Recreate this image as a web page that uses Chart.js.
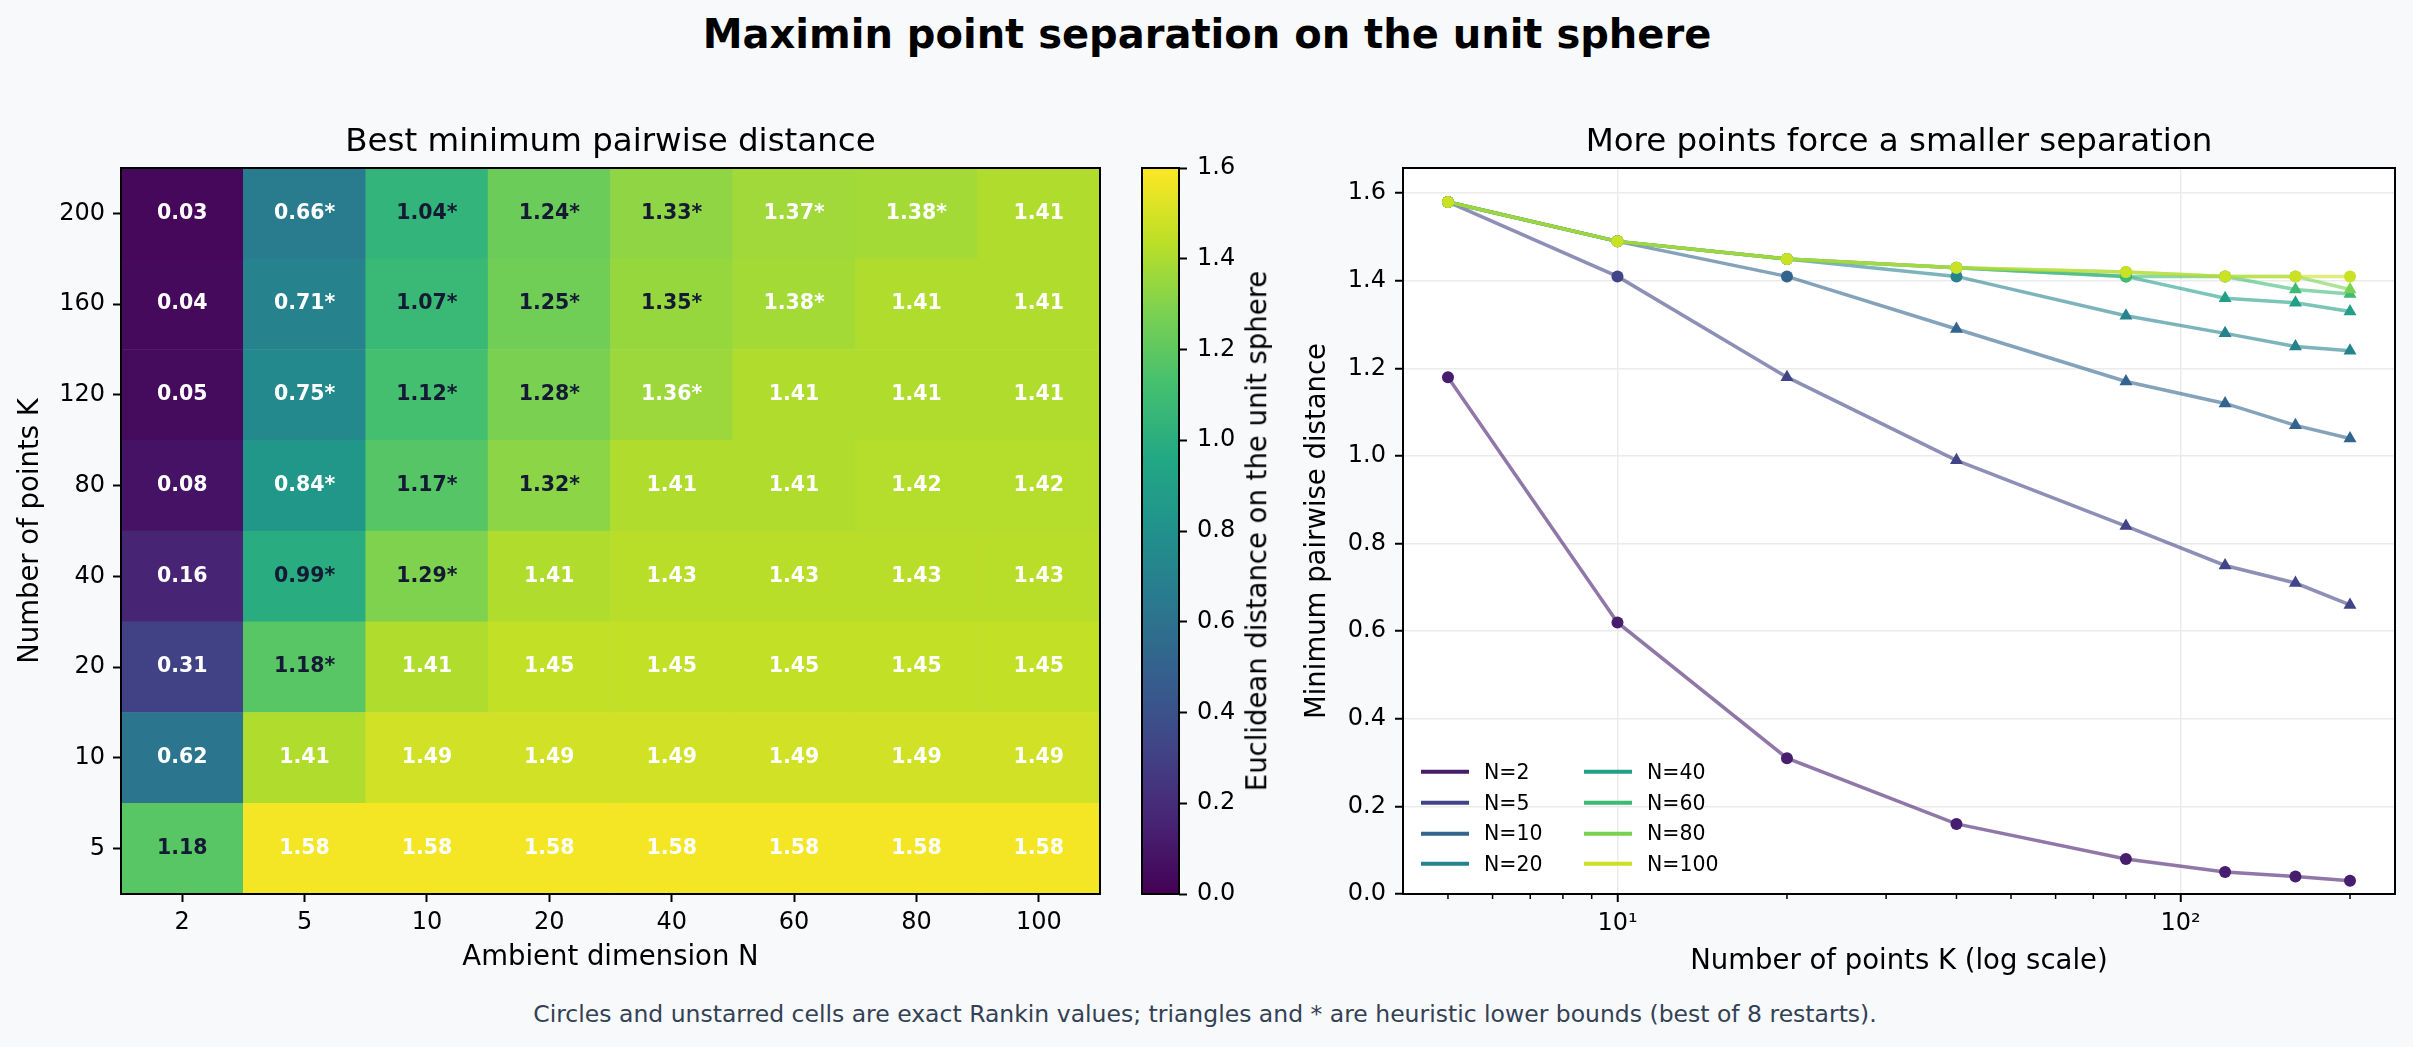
<!DOCTYPE html>
<html lang="en">
<head>
<meta charset="UTF-8">
<title>Maximin point separation on the unit sphere</title>
<script src="https://cdn.jsdelivr.net/npm/chart.js"></script>
<style>
  body { margin: 0; width: 2413px; height: 1047px; background: #f8f9fb; position: relative; overflow: hidden;
         font-family: "DejaVu Sans", sans-serif; color: #000; }
  canvas { position: absolute; }
  .txt { position: absolute; line-height: 1; white-space: nowrap; transform: translate(-50%, -50%); }
  #title { left: 1207px; top: 34px; font-size: 40px; font-weight: bold; }
  #note { left: 1205px; top: 1015px; font-size: 23.5px; color: #334155; }
  #cblabel { left: 1257px; top: 531px; font-size: 27.5px; transform: translate(-50%, -50%) rotate(-90deg); }
  .leg { position: absolute; display: flex; align-items: center; transform: translateY(-50%); font-size: 20.5px; line-height: 1; }
  .leg .sw { display: inline-block; width: 48px; height: 4px; margin-right: 15px; }
</style>
</head>
<body>
  <div id="title" class="txt">Maximin point separation on the unit sphere</div>
  <canvas id="heat" width="1112" height="900" style="left:0; top:100px;"></canvas>
  <canvas id="cbar" width="200" height="900" style="left:1100px; top:100px;"></canvas>
  <div id="cblabel" class="txt">Euclidean distance on the unit sphere</div>
  <canvas id="line" width="1123" height="900" style="left:1290px; top:100px;"></canvas>
  <div id="legend"></div>
  <div id="note" class="txt">Circles and unstarred cells are exact Rankin values; triangles and * are heuristic lower bounds (best of 8 restarts).</div>

<script>
// number of points K (rows of the heatmap, x of the line chart)
const kPoints = [5, 10, 20, 40, 80, 120, 160, 200];
// ambient dimension N (columns of the heatmap, one line each)
const nDims = [2, 5, 10, 20, 40, 60, 80, 100];

// best minimum pairwise distance per N, indexed like kPoints
const distN2   = [1.18, 0.62, 0.31, 0.16, 0.08, 0.05, 0.04, 0.03];
const distN5   = [1.58, 1.41, 1.18, 0.99, 0.84, 0.75, 0.71, 0.66];
const distN10  = [1.58, 1.49, 1.41, 1.29, 1.17, 1.12, 1.07, 1.04];
const distN20  = [1.58, 1.49, 1.45, 1.41, 1.32, 1.28, 1.25, 1.24];
const distN40  = [1.58, 1.49, 1.45, 1.43, 1.41, 1.36, 1.35, 1.33];
const distN60  = [1.58, 1.49, 1.45, 1.43, 1.41, 1.41, 1.38, 1.37];
const distN80  = [1.58, 1.49, 1.45, 1.43, 1.42, 1.41, 1.41, 1.38];
const distN100 = [1.58, 1.49, 1.45, 1.43, 1.42, 1.41, 1.41, 1.41];

// 1 = heuristic lower bound (triangle / *), 0 = exact Rankin value
const heurN2   = [0, 0, 0, 0, 0, 0, 0, 0];
const heurN5   = [0, 0, 1, 1, 1, 1, 1, 1];
const heurN10  = [0, 0, 0, 1, 1, 1, 1, 1];
const heurN20  = [0, 0, 0, 0, 1, 1, 1, 1];
const heurN40  = [0, 0, 0, 0, 0, 1, 1, 1];
const heurN60  = [0, 0, 0, 0, 0, 0, 1, 1];
const heurN80  = [0, 0, 0, 0, 0, 0, 0, 1];
const heurN100 = [0, 0, 0, 0, 0, 0, 0, 0];

// tick labels
const kTickValues = [10, 100];
const kTickLabels = ['10\u00b9', '10\u00b2'];
const kMinorTicks = [5, 6, 7, 8, 9, 20, 30, 40, 50, 60, 70, 80, 90, 200];
const distTicks = [0, 0.2, 0.4, 0.6, 0.8, 1.0, 1.2, 1.4, 1.6];

const dist = [distN2, distN5, distN10, distN20, distN40, distN60, distN80, distN100];
const heur = [heurN2, heurN5, heurN10, heurN20, heurN40, heurN60, heurN80, heurN100];
const cMax = 1.6;

// viridis, 11 stops
const VIR = [[68,1,84],[72,36,117],[65,68,135],[53,95,141],[42,120,142],[33,145,140],
             [34,168,132],[68,191,112],[122,209,81],[189,223,38],[253,231,37]];
function viridisRGB(t) {
  t = Math.min(1, Math.max(0, t));
  const p = t * 10, i = Math.min(9, Math.floor(p)), f = p - i;
  return VIR[i].map((c, j) => Math.round(c + (VIR[i + 1][j] - c) * f));
}
function viridis(t, a) {
  const [r, g, b] = viridisRGB(t);
  return a == null ? `rgb(${r},${g},${b})` : `rgba(${r},${g},${b},${a})`;
}
const lineTone = [0.08, 0.2, 0.32, 0.44, 0.56, 0.68, 0.8, 0.92];

Chart.defaults.font.family = "'DejaVu Sans', sans-serif";
Chart.defaults.color = '#000';

const fixAxis = (w, h) => scale => {
  if (w != null) scale.width = w;
  if (h != null) scale.height = h;
  scale.paddingTop = scale.paddingBottom = scale.paddingLeft = scale.paddingRight = 0;
};

const frame = {
  id: 'frame',
  beforeDraw(chart, args, opts) {
    if (!opts.fill) return;
    const a = chart.chartArea, ctx = chart.ctx;
    ctx.save();
    ctx.fillStyle = opts.fill;
    ctx.fillRect(a.left, a.top, a.width, a.height);
    ctx.restore();
  },
  afterDraw(chart) {
    const a = chart.chartArea, ctx = chart.ctx;
    ctx.save();
    ctx.strokeStyle = '#000';
    ctx.lineWidth = 2;
    ctx.strokeRect(a.left, a.top, a.width, a.height);
    ctx.restore();
  }
};

const tickGrid = { drawOnChartArea: false, tickLength: 8, tickColor: '#000', tickWidth: 2 };
const subTitle = text => ({
  display: true, text, fullSize: false, color: '#000',
  font: { size: 32.5, weight: 'normal' }, padding: { top: 23.5, bottom: 5.5 }
});

// ---------- heatmap ----------
const cellText = {
  id: 'cellText',
  afterDatasetsDraw(chart) {
    const ctx = chart.ctx;
    ctx.save();
    ctx.font = "bold 20.5px 'DejaVu Sans', sans-serif";
    ctx.textAlign = 'center';
    ctx.textBaseline = 'middle';
    chart.data.datasets.forEach((ds, r) => {
      chart.getDatasetMeta(r).data.forEach((bar, c) => {
        const { x, y, base } = bar.getProps(['x', 'y', 'base'], true);
        const v = dist[c][r];
        const t = v / cMax;
        ctx.fillStyle = (t > 0.55 && t < 0.85) ? '#141a33' : '#ffffff';
        ctx.fillText(v.toFixed(2) + (heur[c][r] ? '*' : ''), x, (y + base) / 2);
      });
    });
    ctx.restore();
  }
};

new Chart(document.getElementById('heat'), {
  type: 'bar',
  data: {
    labels: nDims.map(String),
    datasets: kPoints.map((k, r) => ({
      label: 'K=' + k,
      data: nDims.map(() => [r, r + 1]),
      backgroundColor: nDims.map((n, c) => viridis(dist[c][r] / cMax)),
      borderWidth: 0,
      grouped: false,
      barPercentage: 1,
      categoryPercentage: 1
    }))
  },
  options: {
    responsive: false, animation: false, events: [],
    layout: { padding: { left: 0, right: 12, top: 0, bottom: 0 } },
    plugins: {
      legend: { display: false }, tooltip: { enabled: false },
      title: subTitle('Best minimum pairwise distance')
    },
    scales: {
      x: {
        grid: Object.assign({ offset: false }, tickGrid),
        border: { display: false },
        ticks: { font: { size: 24 }, padding: 6, maxRotation: 0, autoSkip: false },
        title: { display: true, text: 'Ambient dimension N', font: { size: 27.5 }, padding: { top: 0, bottom: 25.5 } },
        afterFit: fixAxis(null, 106)
      },
      y: {
        min: 0, max: kPoints.length,
        afterBuildTicks: s => { s.ticks = kPoints.map((k, i) => ({ value: i + 0.5 })); },
        ticks: { font: { size: 24 }, padding: 8, callback: (v, i) => String(kPoints[i]) },
        grid: tickGrid,
        border: { display: false },
        title: { display: true, text: 'Number of points K', font: { size: 27.5 }, padding: { top: 14, bottom: 0 } },
        afterFit: fixAxis(121, null)
      }
    }
  },
  plugins: [frame, cellText]
});

// ---------- colorbar ----------
new Chart(document.getElementById('cbar'), {
  type: 'bar',
  data: {
    labels: [''],
    datasets: [{
      data: [[0, cMax]],
      borderWidth: 0, barPercentage: 1, categoryPercentage: 1,
      backgroundColor: ctx => {
        const a = ctx.chart.chartArea;
        if (!a) return '#21918c';
        const g = ctx.chart.ctx.createLinearGradient(0, a.bottom, 0, a.top);
        VIR.forEach((c, i) => g.addColorStop(i / 10, `rgb(${c[0]},${c[1]},${c[2]})`));
        return g;
      }
    }]
  },
  options: {
    responsive: false, animation: false, events: [],
    layout: { padding: { left: 42, right: 61, top: 68, bottom: 106 } },
    plugins: { legend: { display: false }, tooltip: { enabled: false } },
    scales: {
      x: { display: false },
      y: {
        position: 'right', min: 0, max: cMax,
        afterBuildTicks: s => { s.ticks = distTicks.map(v => ({ value: v })); },
        ticks: { font: { size: 24 }, padding: 10, callback: v => v.toFixed(1) },
        grid: tickGrid,
        border: { display: false },
        afterFit: fixAxis(60, null)
      }
    }
  },
  plugins: [frame]
});

// ---------- line chart ----------
const minorTicks = {
  id: 'minorTicks',
  afterDraw(chart) {
    const s = chart.scales.x, ctx = chart.ctx, b = chart.chartArea.bottom;
    ctx.save();
    ctx.strokeStyle = '#000';
    ctx.lineWidth = 1.5;
    kMinorTicks.forEach(v => {
      const px = s.getPixelForValue(v);
      ctx.beginPath(); ctx.moveTo(px, b); ctx.lineTo(px, b + 5); ctx.stroke();
    });
    ctx.restore();
  }
};

const lineChart = new Chart(document.getElementById('line'), {
  type: 'line',
  data: {
    datasets: nDims.map((n, i) => ({
      label: 'N=' + n,
      data: kPoints.map((k, j) => ({ x: k, y: dist[i][j] })),
      borderColor: viridis(lineTone[i], 0.6),
      borderWidth: 3.5,
      pointStyle: heur[i].map(h => h ? 'triangle' : 'circle'),
      pointRadius: heur[i].map(h => h ? 7.5 : 6),
      pointBackgroundColor: viridis(lineTone[i]),
      pointBorderWidth: 0,
      tension: 0,
      fill: false,
      order: nDims.length - 1 - i
    }))
  },
  options: {
    responsive: false, animation: false, events: [],
    layout: { padding: { left: 0, right: 18, top: 0, bottom: 0 } },
    plugins: {
      legend: { display: false }, tooltip: { enabled: false },
      title: subTitle('More points force a smaller separation'),
      frame: { fill: '#ffffff' }
    },
    scales: {
      x: {
        type: 'logarithmic', min: 4.16, max: 240.4,
        afterBuildTicks: s => { s.ticks = kTickValues.map(v => ({ value: v, major: true })); },
        ticks: { font: { size: 24 }, padding: 7, maxRotation: 0, autoSkip: false, callback: (v, i) => kTickLabels[i] },
        grid: { color: '#ebebeb', lineWidth: 1.5, tickLength: 8, tickColor: '#000', tickWidth: 2 },
        border: { display: false },
        title: { display: true, text: 'Number of points K (log scale)', font: { size: 27.5 }, padding: { top: 0, bottom: 21.5 } },
        afterFit: fixAxis(null, 106)
      },
      y: {
        min: 0, max: 1.6575,
        afterBuildTicks: s => { s.ticks = distTicks.map(v => ({ value: v })); },
        ticks: { font: { size: 24 }, padding: 9, callback: v => v.toFixed(1) },
        grid: { color: '#ebebeb', lineWidth: 1.5, tickLength: 8, tickColor: '#000', tickWidth: 2 },
        border: { display: false },
        title: { display: true, text: 'Minimum pairwise distance', font: { size: 27.5 }, padding: { top: 11.5, bottom: 0 } },
        afterFit: fixAxis(113, null)
      }
    }
  },
  plugins: [frame, minorTicks]
});

// legend, two columns inside the lower left of the plot
const legendBox = document.getElementById('legend');
lineChart.data.datasets.forEach((ds, i) => {
  const col = Math.floor(i / 4), row = i % 4;
  const item = document.createElement('div');
  item.className = 'leg';
  item.style.left = (1421 + col * 163) + 'px';
  item.style.top = (772 + row * 30.7) + 'px';
  const sw = document.createElement('span');
  sw.className = 'sw';
  sw.style.background = viridis(lineTone[i]);
  const label = document.createElement('span');
  label.textContent = ds.label;
  item.appendChild(sw);
  item.appendChild(label);
  legendBox.appendChild(item);
});
</script>
</body>
</html>
